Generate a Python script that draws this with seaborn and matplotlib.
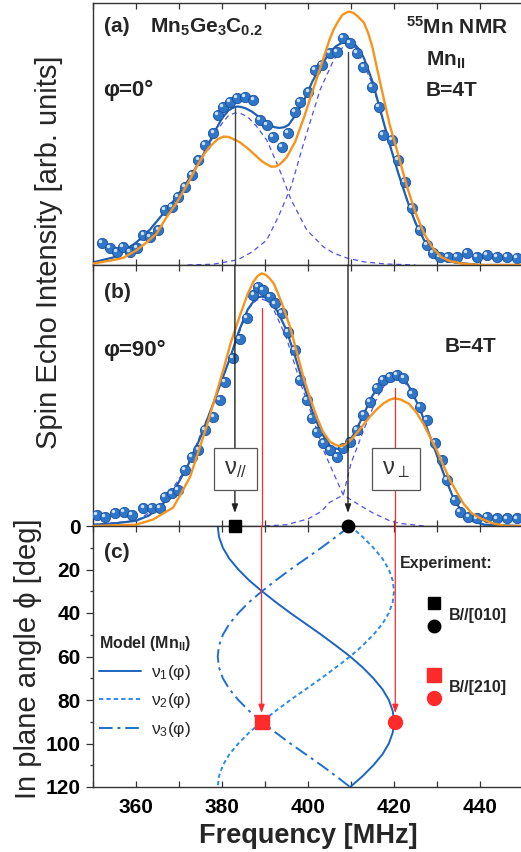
import matplotlib
matplotlib.use("Agg")
import matplotlib.pyplot as plt
import matplotlib.transforms as mtransforms
from matplotlib.legend_handler import HandlerBase
from matplotlib.lines import Line2D
import seaborn as sns

# ---------------- data ----------------
# (a) phi = 0 deg : measured spin echo points + fits
a_pts_f = [352.0, 354.0, 355.5, 357.0, 358.6, 360.2, 361.7, 363.3, 365.2, 366.7, 368.3, 369.8,
           371.4, 373.0, 374.5, 376.0, 378.0, 379.1, 380.3, 381.9, 383.4, 385.3, 387.3, 388.8,
           390.4, 391.9, 393.9, 395.4, 397.0, 398.1, 400.1, 401.6, 403.2, 405.1, 406.7, 408.2,
           409.8, 411.3, 412.9, 414.8, 416.4, 417.5, 419.5, 421.0, 422.6, 424.1, 426.0, 427.6,
           429.1, 430.7, 432.6, 434.6, 436.9, 439.2, 441.6, 443.9, 446.2, 448.5]
a_pts_i = [0.084, 0.065, 0.050, 0.069, 0.050, 0.065, 0.115, 0.107, 0.134, 0.210, 0.221, 0.260,
           0.298, 0.344, 0.400, 0.458, 0.504, 0.573, 0.603, 0.622, 0.637, 0.641, 0.630, 0.553,
           0.534, 0.489, 0.450, 0.504, 0.584, 0.622, 0.660, 0.744, 0.763, 0.809, 0.813, 0.866,
           0.847, 0.809, 0.756, 0.679, 0.603, 0.496, 0.477, 0.400, 0.317, 0.218, 0.134, 0.076,
           0.046, 0.031, 0.031, 0.031, 0.046, 0.031, 0.038, 0.031, 0.031, 0.027]

a_fit_f = [350, 355, 360, 363, 366, 369, 372, 375, 378, 380, 381.5, 382.5, 383.5, 384.5, 385.5,
           387, 389, 391, 392.2, 393.3, 394.5, 395.5, 397, 399, 401, 403, 405, 406.5, 408, 409,
           410, 411, 412, 413, 415, 417, 419, 421, 423, 425, 427, 429, 431, 434, 440, 450]
a_fit_i = [0.01, 0.03, 0.085, 0.13, 0.19, 0.25, 0.32, 0.40, 0.50, 0.56, 0.59, 0.60, 0.605, 0.603,
           0.598, 0.585, 0.56, 0.535, 0.526, 0.523, 0.526, 0.535, 0.57, 0.625, 0.70, 0.76, 0.81,
           0.835, 0.849, 0.852, 0.85, 0.84, 0.82, 0.79, 0.70, 0.58, 0.46, 0.35, 0.25, 0.16, 0.095,
           0.05, 0.025, 0.01, 0.0, 0.0]

a_model_f = [350, 355, 357, 360, 362, 364.8, 367, 369.4, 372, 374.1, 376, 377, 378, 379, 380.3,
             381.5, 383, 384, 386, 388, 389, 390, 391.5, 392.5, 393.5, 395, 397, 399, 401, 403,
             405, 406, 407, 408, 409.4, 410.5, 411.5, 413, 414, 415, 417, 419, 421, 423, 425,
             427, 429, 431, 433, 436, 440, 450]
a_model_i = [0.005, 0.02, 0.027, 0.055, 0.08, 0.12, 0.18, 0.236, 0.31, 0.375, 0.427, 0.448, 0.465,
             0.48, 0.49, 0.489, 0.478, 0.47, 0.445, 0.415, 0.40, 0.388, 0.375, 0.376, 0.385, 0.41,
             0.47, 0.56, 0.66, 0.76, 0.86, 0.90, 0.93, 0.955, 0.967, 0.963, 0.95, 0.925, 0.885,
             0.83, 0.68, 0.535, 0.42, 0.30, 0.20, 0.12, 0.065, 0.03, 0.015, 0.005, 0.0, 0.0]

a_c1_f = [350, 355, 360, 365, 370, 375, 378, 380, 381.5, 383, 384.5, 386, 388, 390.4, 393.1, 396.1,
          399.7, 403.6, 406, 409, 413, 418, 425]
a_c1_i = [0.01, 0.03, 0.08, 0.17, 0.27, 0.40, 0.49, 0.54, 0.57, 0.58, 0.577, 0.565, 0.53, 0.477,
          0.375, 0.248, 0.134, 0.069, 0.045, 0.027, 0.012, 0.004, 0.0]
a_c2_f = [372, 378, 383.7, 387, 390.4, 393.1, 396.1, 398.9, 402.8, 405.9, 408, 409.4, 411, 412,
          415, 418, 421, 424, 427, 430, 433, 437]
a_c2_i = [0.0, 0.003, 0.02, 0.05, 0.095, 0.184, 0.30, 0.46, 0.668, 0.78, 0.83, 0.84, 0.83, 0.80,
          0.69, 0.52, 0.35, 0.20, 0.095, 0.04, 0.012, 0.0]

# (b) phi = 90 deg
b_pts_f = [350.9, 352.8, 355.1, 357.1, 359.0, 361.7, 363.7, 365.6, 366.7, 368.3, 369.8, 371.4,
           373.0, 374.5, 376.0, 378.0, 379.5, 380.7, 382.6, 384.2, 385.7, 387.3, 388.4, 389.6,
           391.2, 392.3, 393.9, 395.4, 397.0, 398.1, 399.7, 400.9, 402.0, 403.6, 405.1, 406.7,
           408.2, 409.8, 411.3, 412.9, 414.4, 416.0, 417.5, 419.1, 420.6, 422.2, 424.1, 426.0,
           427.6, 429.5, 431.1, 432.3, 434.2, 435.3, 437.3, 439.2, 441.6, 443.9, 446.2, 448.5]
b_pts_i = [0.042, 0.036, 0.049, 0.055, 0.042, 0.068, 0.068, 0.068, 0.112, 0.125, 0.138, 0.215,
           0.266, 0.291, 0.368, 0.419, 0.483, 0.553, 0.643, 0.718, 0.796, 0.885, 0.917, 0.904,
           0.879, 0.853, 0.815, 0.745, 0.674, 0.559, 0.483, 0.413, 0.361, 0.317, 0.291, 0.266,
           0.298, 0.323, 0.368, 0.425, 0.476, 0.528, 0.559, 0.572, 0.578, 0.566, 0.508, 0.457,
           0.405, 0.317, 0.253, 0.176, 0.100, 0.055, 0.036, 0.029, 0.036, 0.029, 0.029, 0.029]

b_fit_f = [350, 355, 360, 363, 366, 369, 372, 375, 378, 380, 382, 384, 386, 387.5, 388.5, 389.2,
           390, 391, 393, 395, 397, 399, 401, 403, 405, 406, 407, 408, 409, 411, 413, 415, 417,
           418.5, 419.5, 420.5, 421.5, 422.5, 424, 426, 428, 430, 432, 434, 436, 438, 441, 450]
b_fit_i = [0.005, 0.01, 0.02, 0.04, 0.08, 0.14, 0.23, 0.34, 0.47, 0.56, 0.65, 0.75, 0.83, 0.865,
           0.877, 0.879, 0.876, 0.865, 0.82, 0.75, 0.65, 0.54, 0.44, 0.36, 0.31, 0.299, 0.295,
           0.299, 0.31, 0.36, 0.43, 0.50, 0.545, 0.565, 0.573, 0.575, 0.572, 0.562, 0.52, 0.45,
           0.36, 0.27, 0.18, 0.10, 0.05, 0.02, 0.005, 0.0]

b_model_f = [350, 360, 364, 366, 368.6, 370, 372.6, 374, 376.4, 378, 380.3, 382, 384.2, 386, 387.3,
             388.3, 389.2, 390.2, 391, 392, 392.7, 394, 395.8, 397.5, 398.9, 400.5, 402, 403.5,
             405.1, 406.5, 407.5, 408.5, 410, 411.3, 414.4, 416, 417.5, 419, 420.1, 421.5, 423.4,
             425, 426.8, 429.9, 433, 436.1, 438, 440, 443, 446, 450]
b_model_i = [0.0, 0.005, 0.025, 0.045, 0.07, 0.11, 0.189, 0.26, 0.38, 0.47, 0.598, 0.70, 0.808,
             0.89, 0.936, 0.958, 0.968, 0.962, 0.95, 0.93, 0.904, 0.85, 0.764, 0.66, 0.572, 0.49,
             0.419, 0.36, 0.323, 0.31, 0.306, 0.31, 0.33, 0.355, 0.419, 0.447, 0.469, 0.484, 0.489,
             0.485, 0.469, 0.44, 0.393, 0.291, 0.176, 0.087, 0.05, 0.03, 0.01, 0.0, 0.0]

b_c1_f = [350, 360, 366, 372, 378, 382, 386, 388, 389.2, 390.5, 392, 395, 398, 401, 403.6, 406,
          408.2, 412, 415.1, 419, 421.4, 427]
b_c1_i = [0.005, 0.02, 0.08, 0.23, 0.47, 0.65, 0.83, 0.865, 0.87, 0.862, 0.83, 0.72, 0.56, 0.42,
          0.29, 0.2, 0.119, 0.08, 0.05, 0.02, 0.01, 0.0]
b_c2_f = [390, 395, 400, 403, 405, 408.2, 410, 413, 416, 418, 419.3, 420.5, 421.7, 424, 426, 428,
          430, 432, 434, 436, 438, 441, 445]
b_c2_i = [0.0, 0.005, 0.027, 0.055, 0.09, 0.119, 0.24, 0.37, 0.49, 0.545, 0.563, 0.57, 0.563, 0.52,
          0.45, 0.36, 0.27, 0.18, 0.10, 0.05, 0.02, 0.005, 0.0]

# (c) model angular dependence (Mn_II sites), read at 5 deg steps
phi = [0, 5, 10, 15, 20, 25, 30, 35, 40, 45, 50, 55, 60, 65, 70, 75, 80, 85, 90, 95, 100, 105,
       110, 115, 120]
nu1 = [379.0, 379.3, 380.2, 381.7, 383.8, 386.3, 389.3, 392.5, 395.9, 399.5, 403.1, 406.5, 409.8,
       412.7, 415.2, 417.3, 418.8, 419.7, 420.0, 419.7, 418.8, 417.3, 415.2, 412.7, 409.8]
nu2 = [409.8, 412.7, 415.2, 417.3, 418.8, 419.7, 420.0, 419.7, 418.8, 417.3, 415.2, 412.7, 409.8,
       406.5, 403.1, 399.5, 395.9, 392.5, 389.3, 386.3, 383.8, 381.7, 380.2, 379.3, 379.0]
nu3 = [409.8, 406.5, 403.1, 399.5, 395.9, 392.5, 389.3, 386.3, 383.8, 381.7, 380.2, 379.3, 379.0,
       379.3, 380.2, 381.7, 383.8, 386.3, 389.3, 392.5, 395.9, 399.5, 403.1, 406.5, 409.8]

# experimental line positions
exp010_f = [383.0, 409.3]     # B//[010], phi = 0
exp010_phi = [0, 0]
exp010_top = [0.60, 0.814]    # where guide lines start in (a)
exp210_f = [389.2, 420.3]     # B//[210], phi = 90
exp210_phi = [90, 90]
exp210_top = [0.834, 0.527]   # where guide lines start in (b)
box_labels = [r"$\nu_{//}$", r"$\nu_{\perp}$"]
box_f = [383.1, 420.5]
box_i = [0.218, 0.218]

# ---------------- style ----------------
sns.set_style("ticks")
plt.rcParams["font.family"] = ["Liberation Sans", "DejaVu Sans"]
plt.rcParams["mathtext.default"] = "regular"
plt.rcParams["axes.edgecolor"] = "#333333"
plt.rcParams["axes.linewidth"] = 1.0

PT_BLUE = "#2f76c9"
FIT_BLUE = "#1f5fb4"
ORANGE = "#f7941d"
COMP = "#5050ee"
RED = "#ff2a2a"

W, H = 521, 852
fig = plt.figure(figsize=(W / 100, H / 100), dpi=100)


def px_axes(top, bottom, left=93, right=523):
    return fig.add_axes([left / W, 1 - bottom / H, (right - left) / W, (bottom - top) / H])


ax_a = px_axes(3, 265)
ax_b = px_axes(265, 526)
ax_c = px_axes(526, 787)


def spheres(ax, f, i):
    sns.scatterplot(x=f, y=i, ax=ax, s=55, color=PT_BLUE, edgecolor="#1b4f98",
                    linewidth=0.6, zorder=3, legend=False)
    hl = mtransforms.offset_copy(ax.transData, fig=fig, x=-1.3, y=1.3, units="points")
    ax.scatter(f, i, s=6, color="#cfe3f8", linewidths=0, zorder=3.5, transform=hl)


def spectrum_panel(ax, pts_f, pts_i, fit_f, fit_i, mod_f, mod_i, c1, c2):
    sns.lineplot(x=c1[0], y=c1[1], ax=ax, color=COMP, lw=0.9, linestyle=(0, (4, 3)), zorder=2)
    sns.lineplot(x=c2[0], y=c2[1], ax=ax, color=COMP, lw=0.9, linestyle=(0, (4, 3)), zorder=2)
    sns.lineplot(x=fit_f, y=fit_i, ax=ax, color=FIT_BLUE, lw=1.6, zorder=2.5)
    spheres(ax, pts_f, pts_i)
    sns.lineplot(x=mod_f, y=mod_i, ax=ax, color=ORANGE, lw=1.7, zorder=4)
    ax.set_xlim(350, 450)
    ax.set_ylim(0, 1)
    ax.set_yticks([])
    ax.set_xticks(range(350, 451, 10))
    ax.tick_params(axis="x", direction="in", length=4, width=0.9, top=True, bottom=True,
                   labelbottom=False, colors="#333333")
    ax.set_xlabel("")
    ax.set_ylabel("")
    ax.spines["right"].set_visible(False)


spectrum_panel(ax_a, a_pts_f, a_pts_i, a_fit_f, a_fit_i, a_model_f, a_model_i,
               (a_c1_f, a_c1_i), (a_c2_f, a_c2_i))
spectrum_panel(ax_b, b_pts_f, b_pts_i, b_fit_f, b_fit_i, b_model_f, b_model_i,
               (b_c1_f, b_c1_i), (b_c2_f, b_c2_i))

# guide lines from (a) down to the phi=0 markers
for f, top in zip(exp010_f, exp010_top):
    ax_a.plot([f, f], [top, 0], color="#444444", lw=1.0, zorder=5, clip_on=False)
    ax_b.annotate("", xy=(f, 0.05), xytext=(f, 1.0),
                  arrowprops=dict(arrowstyle="-|>,head_length=0.5,head_width=0.18",
                                  color="#222222", lw=1.0, shrinkA=0, shrinkB=0), zorder=5)
# red guide lines from (b) down to the phi=90 markers
for f, top in zip(exp210_f, exp210_top):
    ax_b.plot([f, f], [top, 0], color=RED, lw=0.9, zorder=5, clip_on=False)
    ax_c.annotate("", xy=(f, 86), xytext=(f, 0),
                  arrowprops=dict(arrowstyle="-|>,head_length=0.5,head_width=0.18",
                                  color=RED, lw=0.9, shrinkA=0, shrinkB=0), zorder=5)

for lab, f, i in zip(box_labels, box_f, box_i):
    ax_b.text(f, i, lab, ha="center", va="center", fontsize=17, color="#333333", zorder=6,
              bbox=dict(boxstyle="square,pad=0.42", fc="white", ec="#555555", lw=0.9))

# ---------------- panel (c) ----------------
sns.lineplot(x=nu1, y=phi, ax=ax_c, sort=False, estimator=None, color="#1d64c0", lw=1.4,
             label=r"$\nu_1$(φ)")
sns.lineplot(x=nu2, y=phi, ax=ax_c, sort=False, estimator=None, color="#2d8be8", lw=1.4,
             linestyle=(0, (2.2, 1.6)), label=r"$\nu_2$(φ)")
sns.lineplot(x=nu3, y=phi, ax=ax_c, sort=False, estimator=None, color="#1f6fd0", lw=1.4,
             linestyle=(0, (7, 2.5, 1.5, 2.5)), label=r"$\nu_3$(φ)")

sq010, = ax_c.plot(exp010_f[:1], exp010_phi[:1], "s", color="black", ms=8.5, clip_on=False, zorder=7)
ci010, = ax_c.plot(exp010_f[1:], exp010_phi[1:], "o", color="black", ms=9, clip_on=False, zorder=7)
sq210, = ax_c.plot(exp210_f[:1], exp210_phi[:1], "s", color=RED, ms=9.5, clip_on=False, zorder=7)
ci210, = ax_c.plot(exp210_f[1:], exp210_phi[1:], "o", color=RED, ms=10, clip_on=False, zorder=7)

ax_c.set_xlim(350, 450)
ax_c.set_ylim(120, 0)
ax_c.set_xticks(range(360, 441, 20))
ax_c.set_xticks(range(350, 451, 10), minor=True)
ax_c.set_yticks(range(0, 121, 20))
ax_c.set_yticks(range(0, 121, 10), minor=True)
ax_c.tick_params(axis="x", which="both", direction="in", length=4.5, width=0.9, top=True,
                 bottom=True, pad=8, labelsize=15, colors="#333333", labelcolor="black")
ax_c.tick_params(axis="y", which="major", direction="out", length=5, width=0.9, pad=4,
                 labelsize=15, colors="#333333", labelcolor="black")
ax_c.tick_params(axis="y", which="minor", direction="out", length=2.5, width=0.9,
                 colors="#333333")
for t in ax_c.get_xticklabels() + ax_c.get_yticklabels():
    t.set_fontweight("bold")
ax_c.set_xlabel("")
ax_c.set_ylabel("")
ax_c.spines["right"].set_visible(False)


class StackHandler(HandlerBase):
    def create_artists(self, legend, orig_handle, xdescent, ydescent, width, height,
                       fontsize, trans):
        arts = []
        for h, dy in zip(orig_handle, (8.3, -8.3)):
            m = Line2D([width / 2 - xdescent], [height / 2 - ydescent + dy],
                       marker=h.get_marker(), markersize=h.get_markersize(),
                       color=h.get_color(), linestyle="none")
            m.set_transform(trans)
            arts.append(m)
        return arts


model_leg = ax_c.legend(title="Model (Mn$_{II}$)", loc="upper left", bbox_to_anchor=(0.015, 0.585),
                        frameon=False, fontsize=12.5, handlelength=2.4, handletextpad=0.55,
                        labelspacing=0.55, borderpad=0, borderaxespad=0, alignment="left",
                        title_fontproperties={"weight": "bold", "size": 11.5})
ax_c.add_artist(model_leg)
ax_c.legend(handles=[(sq010, ci010), (sq210, ci210)], labels=["B//[010]", "B//[210]"],
            handler_map={tuple: StackHandler()}, loc="upper left",
            bbox_to_anchor=(0.775, 0.685), frameon=False, handlelength=1.0, handletextpad=0.4,
            labelspacing=3.55, borderpad=0, borderaxespad=0,
            prop={"weight": "bold", "size": 11.5})
ax_c.text(0.714, 0.858, "Experiment:", transform=ax_c.transAxes, ha="left", va="center",
          fontsize=11.5, fontweight="bold")

# ---------------- panel annotations ----------------
txt = dict(fontsize=15, fontweight="bold", va="center", ha="left")
fig.text(104 / W, 1 - 27 / H, "(a)", **txt)
fig.text(104 / W, 1 - 292 / H, "(b)", **txt)
fig.text(104 / W, 1 - 553 / H, "(c)", **txt)
fig.text(150 / W, 1 - 27 / H, "Mn$_5$Ge$_3$C$_{0.2}$", **txt)
fig.text(406 / W, 1 - 27 / H, "$^{55}$Mn NMR", **txt)
fig.text(426 / W, 1 - 60 / H, "Mn$_{II}$", **txt)
fig.text(426 / W, 1 - 90 / H, "B=4T", **txt)
fig.text(445 / W, 1 - 347 / H, "B=4T", **txt)
fig.text(103 / W, 1 - 90 / H, "φ=0°", fontsize=16, fontweight="bold", va="center", ha="left",
         color="#222222")
fig.text(103 / W, 1 - 350 / H, "φ=90°", fontsize=16, fontweight="bold", va="center", ha="left",
         color="#222222")

fig.text(49 / W, 1 - 252 / H, "Spin Echo Intensity [arb. units]", rotation=90, fontsize=21,
         ha="center", va="center")
fig.text(28 / W, 1 - 659 / H, "In plane angle ϕ [deg]", rotation=90, fontsize=21,
         ha="center", va="center")
fig.text(308 / W, 1 - 836 / H, "Frequency [MHz]", fontsize=19.5, fontweight="bold",
         ha="center", va="center")

fig.savefig("out.png", dpi=100)
